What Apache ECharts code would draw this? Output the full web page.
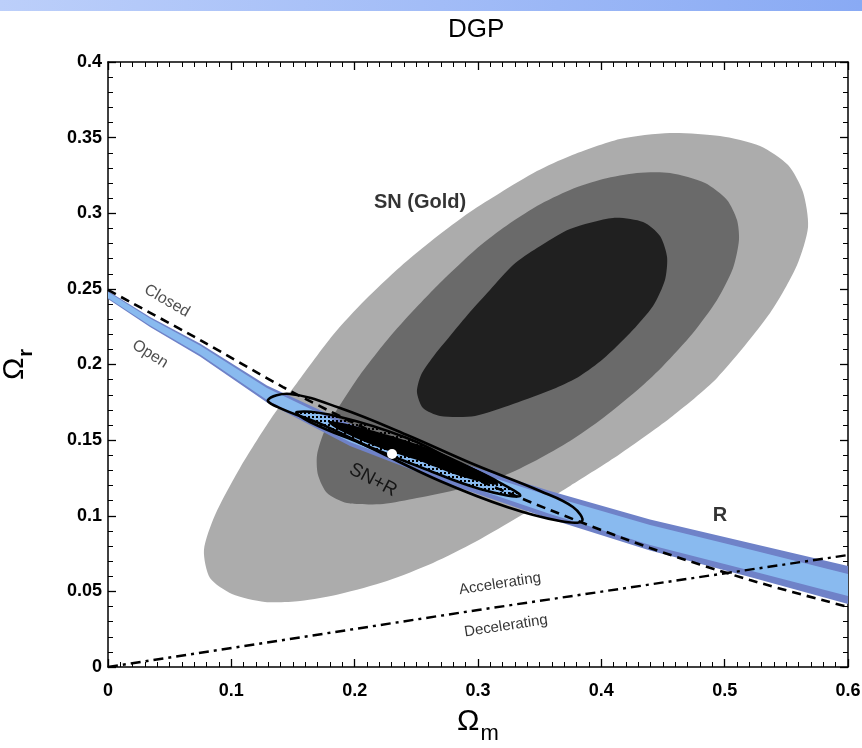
<!DOCTYPE html>
<html><head><meta charset="utf-8">
<script src="https://cdn.jsdelivr.net/npm/echarts@6/dist/echarts.min.js"></script>
<style>html,body{margin:0;padding:0;background:#fff}#c{width:862px;height:748px}</style>
</head><body><div id="c"></div>
<script>
// ---- data (Ωm, Ωr) ----
// SN (Gold) confidence regions (boundary points)
const snOuter = [[0.5676,0.2909],[0.5635,0.3140],[0.5514,0.3319],[0.5287,0.3445],[0.4962,0.3511],[0.4557,0.3531],[0.4151,0.3491],[0.3746,0.3379],[0.3478,0.3279],[0.3178,0.3134],[0.2935,0.3008],[0.2651,0.2836],[0.2368,0.2645],[0.2084,0.2426],[0.1824,0.2195],[0.1532,0.1878],[0.1314,0.1633],[0.1070,0.1316],[0.0868,0.1005],[0.0778,0.0774],[0.0827,0.0588],[0.1005,0.0483],[0.1273,0.0430],[0.1557,0.0436],[0.1881,0.0483],[0.2262,0.0569],[0.2635,0.0688],[0.2976,0.0826],[0.3341,0.0998],[0.3746,0.1197],[0.4151,0.1408],[0.4557,0.1646],[0.4938,0.1911],[0.5368,0.2340],[0.5587,0.2658]];
const snMid = [[0.5116,0.2823],[0.5100,0.2955],[0.5019,0.3088],[0.4841,0.3200],[0.4557,0.3266],[0.4289,0.3266],[0.4014,0.3226],[0.3746,0.3154],[0.3478,0.3048],[0.3203,0.2902],[0.2976,0.2757],[0.2635,0.2493],[0.2311,0.2208],[0.2043,0.1931],[0.1881,0.1732],[0.1759,0.1567],[0.1695,0.1402],[0.1703,0.1269],[0.1776,0.1150],[0.1938,0.1084],[0.2230,0.1078],[0.2505,0.1117],[0.2854,0.1177],[0.3203,0.1263],[0.3478,0.1369],[0.3746,0.1494],[0.4014,0.1646],[0.4330,0.1858],[0.4500,0.1990],[0.4743,0.2208],[0.4938,0.2426],[0.5068,0.2638]];
const snInner = [[0.2505,0.1818],[0.2538,0.1931],[0.2635,0.2050],[0.2773,0.2188],[0.2935,0.2347],[0.3097,0.2493],[0.3284,0.2658],[0.3478,0.2770],[0.3746,0.2896],[0.4095,0.2969],[0.4338,0.2942],[0.4476,0.2850],[0.4533,0.2711],[0.4516,0.2559],[0.4419,0.2387],[0.4233,0.2208],[0.4014,0.2036],[0.3827,0.1924],[0.3632,0.1845],[0.3284,0.1739],[0.2976,0.1660],[0.2692,0.1660],[0.2554,0.1712]];
// R (shift parameter) band
const bandX   = [0, 0.0341, 0.0746, 0.1289, 0.1962, 0.2773, 0.3584, 0.4395, 0.5205, 0.6];
const band2Up = [0.2486, 0.2314, 0.2139, 0.1861, 0.1607, 0.1372, 0.1164, 0.0975, 0.0820, 0.0668];
const band2Lo = [0.2433, 0.2248, 0.2053, 0.1749, 0.1461, 0.1207, 0.0979, 0.0770, 0.0595, 0.0417];
const band1Up = [0.2479, 0.2304, 0.2126, 0.1845, 0.1580, 0.1342, 0.1131, 0.0939, 0.0777, 0.0615];
const band1Lo = [0.2440, 0.2258, 0.2066, 0.1765, 0.1488, 0.1236, 0.1012, 0.0807, 0.0638, 0.0469];
// Closed / Open boundary (dashed)
const closedX = [0, 0.0746, 0.1419, 0.1962, 0.2773, 0.3584, 0.4395, 0.5205, 0.6];
const closedY = [0.2493, 0.2162, 0.1851, 0.1626, 0.1316, 0.1038, 0.0787, 0.0575, 0.0397];
// Accelerating / Decelerating boundary (dash-dot)
const accelX = [0, 0.3, 0.6];
const accelY = [0, 0.0377, 0.074];
// SN+R combined contours
const snr3 = [[0.1297,0.1765],[0.1476,0.1805],[0.1881,0.1712],[0.2424,0.1534],[0.2960,0.1342],[0.3503,0.1164],[0.3770,0.1058],[0.3843,0.0965],[0.3665,0.0965],[0.3235,0.1058],[0.2692,0.1230],[0.2149,0.1441],[0.1743,0.1600],[0.1395,0.1712]];
const snr2 = [[0.1532,0.1686],[0.1881,0.1653],[0.2424,0.1514],[0.2830,0.1355],[0.3122,0.1243],[0.3341,0.1131],[0.3016,0.1177],[0.2530,0.1322],[0.2043,0.1481],[0.1638,0.1620]];
const snr1 = [[0.1800,0.1620],[0.2124,0.1560],[0.2449,0.1481],[0.2773,0.1382],[0.3154,0.1217],[0.2854,0.1269],[0.2530,0.1369],[0.2205,0.1455],[0.1922,0.1554]];
const bestFit = [0.2303, 0.1408];
// annotations
const labelText = ['SN (Gold)', 'R', 'SN+R', 'Closed', 'Open', 'Accelerating', 'Decelerating'];
const labelAt = [[0.253,0.3074],[0.4962,0.1005],[0.2149,0.1236],[0.0478,0.242],[0.0341,0.2069],[0.3178,0.0549],[0.3227,0.0271]];
// axes
const xMin = 0, xMax = 0.6, xStep = 0.1;
const yMin = 0, yMax = 0.4, yStep = 0.05;

// ---- styles (not data) ----
const FONT = '"Liberation Sans", Arial, Helvetica, sans-serif';
const labelStyles = [
  {fontSize:20, fontWeight:'bold', rotate:0},
  {fontSize:20, fontWeight:'bold', rotate:0},
  {fontSize:19, fontWeight:'normal', rotate:-28},
  {fontSize:16, fontWeight:'normal', rotate:-30, color:'#222'},
  {fontSize:16, fontWeight:'normal', rotate:-32, color:'#222'},
  {fontSize:15, fontWeight:'normal', rotate:8.7},
  {fontSize:15, fontWeight:'normal', rotate:8.7}
];

// dotted fill pattern (rendering style)
const dotCanvas = document.createElement('canvas');
dotCanvas.width = 4; dotCanvas.height = 4;
(function(){ const g = dotCanvas.getContext('2d'); g.fillStyle = '#000'; g.fillRect(0,0,2,2); })();

function zip(xs, ys){ return xs.map((x,i)=>[x, ys[i]]); }
function bandPoly(up, lo){ return zip(bandX, up).concat(zip(bandX, lo).reverse()); }

function poly(points, style, z, smooth){
  return {
    type:'custom', coordinateSystem:'cartesian2d', clip:true, silent:true, z:z,
    data:[[0,0]],
    renderItem:function(params, api){
      return {type:'polygon', shape:{points: points.map(p=>api.coord(p)), smooth: smooth||0}, style: style};
    }
  };
}

const axisCommon = {
  type:'value',
  axisLine:{show:true, onZero:false, lineStyle:{color:'#000', width:1.5}},
  splitLine:{show:false},
  axisTick:{show:true, inside:true, length:8, lineStyle:{color:'#000', width:1.3}},
  minorTick:{show:true, splitNumber:5, length:5, lineStyle:{color:'#000', width:1}}
};

const chart = echarts.init(document.getElementById('c'), null, {renderer:'canvas'});
chart.setOption({
  animation:false,
  backgroundColor:'#fff',
  title:{text:'DGP', left:443, top:12, textStyle:{fontFamily:FONT, fontSize:26, fontWeight:'normal', color:'#000'}},
  graphic:[{type:'rect', left:0, top:0, shape:{width:862, height:11},
    style:{fill:new echarts.graphic.LinearGradient(0,0,1,0,[{offset:0,color:'#bccffa'},{offset:1,color:'#89aaf4'}])}, z:-1}],
  grid:{left:108, right:14, top:62, bottom:81, containLabel:false, outerBoundsMode:'none'},
  xAxis:[
    Object.assign({}, axisCommon, {min:xMin, max:xMax, interval:xStep, position:'bottom',
      minorTick:{show:true, splitNumber:10, length:5, lineStyle:{color:'#000', width:1}},
      axisLabel:{show:true, margin:15, color:'#000', fontFamily:FONT, fontSize:18, fontWeight:'bold'},
      name:'{a|Ω}{b|m}', nameLocation:'middle', nameGap:40,
      nameTextStyle:{fontFamily:FONT, color:'#000', rich:{a:{fontSize:30, fontFamily:FONT, color:'#000', lineHeight:34, verticalAlign:'top'}, b:{fontSize:22, fontFamily:FONT, color:'#000', padding:[16,0,0,1], verticalAlign:'top'}}}}),
    Object.assign({}, axisCommon, {min:xMin, max:xMax, interval:xStep, position:'top',
      minorTick:{show:true, splitNumber:10, length:5, lineStyle:{color:'#000', width:1}},
      axisLabel:{show:false}})
  ],
  yAxis:[
    Object.assign({}, axisCommon, {min:yMin, max:yMax, interval:yStep, position:'left',
      axisLabel:{show:true, margin:6, color:'#000', fontFamily:FONT, fontSize:18, fontWeight:'bold'},
      name:'{a|Ω}{b|r}', nameLocation:'middle', nameGap:72, nameRotate:90,
      nameTextStyle:{fontFamily:FONT, color:'#000', rich:{a:{fontSize:30, fontFamily:FONT, color:'#000', lineHeight:34, verticalAlign:'top'}, b:{fontSize:20, fontWeight:'bold', fontFamily:FONT, color:'#000', padding:[16,0,0,1], verticalAlign:'top'}}}}),
    Object.assign({}, axisCommon, {min:yMin, max:yMax, interval:yStep, position:'right',
      axisLabel:{show:false}})
  ],
  series:[
    poly(snOuter, {fill:'#acacac'}, 1, 0.25),
    poly(snMid,   {fill:'#6a6a6a'}, 2, 0.25),
    poly(snInner, {fill:'#202020'}, 3, 0.25),
    poly(bandPoly(band2Up, band2Lo), {fill:'#6f82c8'}, 4, 0),
    poly(bandPoly(band1Up, band1Lo), {fill:'#89baef'}, 5, 0),
    {type:'line', data:zip(closedX, closedY), symbol:'none', smooth:0.3, z:6, silent:true,
      lineStyle:{color:'#000', width:2.6, type:[9,6]}},
    {type:'line', data:zip(accelX, accelY), symbol:'none', z:6, silent:true,
      lineStyle:{color:'#000', width:2.4, type:[10,5,3,5]}},
    poly(snr3, {fill:'none', stroke:'#000', lineWidth:2.6}, 7, 0.4),
    poly(snr2, {fill:{image:dotCanvas, repeat:'repeat'}, stroke:'#000', lineWidth:2.6}, 7, 0.4),
    poly(snr1, {fill:'#000', stroke:'#000', lineWidth:2}, 7, 0.4),
    {type:'scatter', data:[bestFit], symbol:'circle', symbolSize:10, z:8, silent:true,
      itemStyle:{color:'#fff', opacity:1}},
    {type:'scatter', symbolSize:0, z:9, silent:true,
      data: labelText.map((t,i)=>({value:labelAt[i], label:{show:true, position:'inside', formatter:t,
        rotate:labelStyles[i].rotate, fontSize:labelStyles[i].fontSize, fontWeight:labelStyles[i].fontWeight,
        color:labelStyles[i].color||'#000', fontFamily:FONT}}))}
  ]
});
</script></body></html>
